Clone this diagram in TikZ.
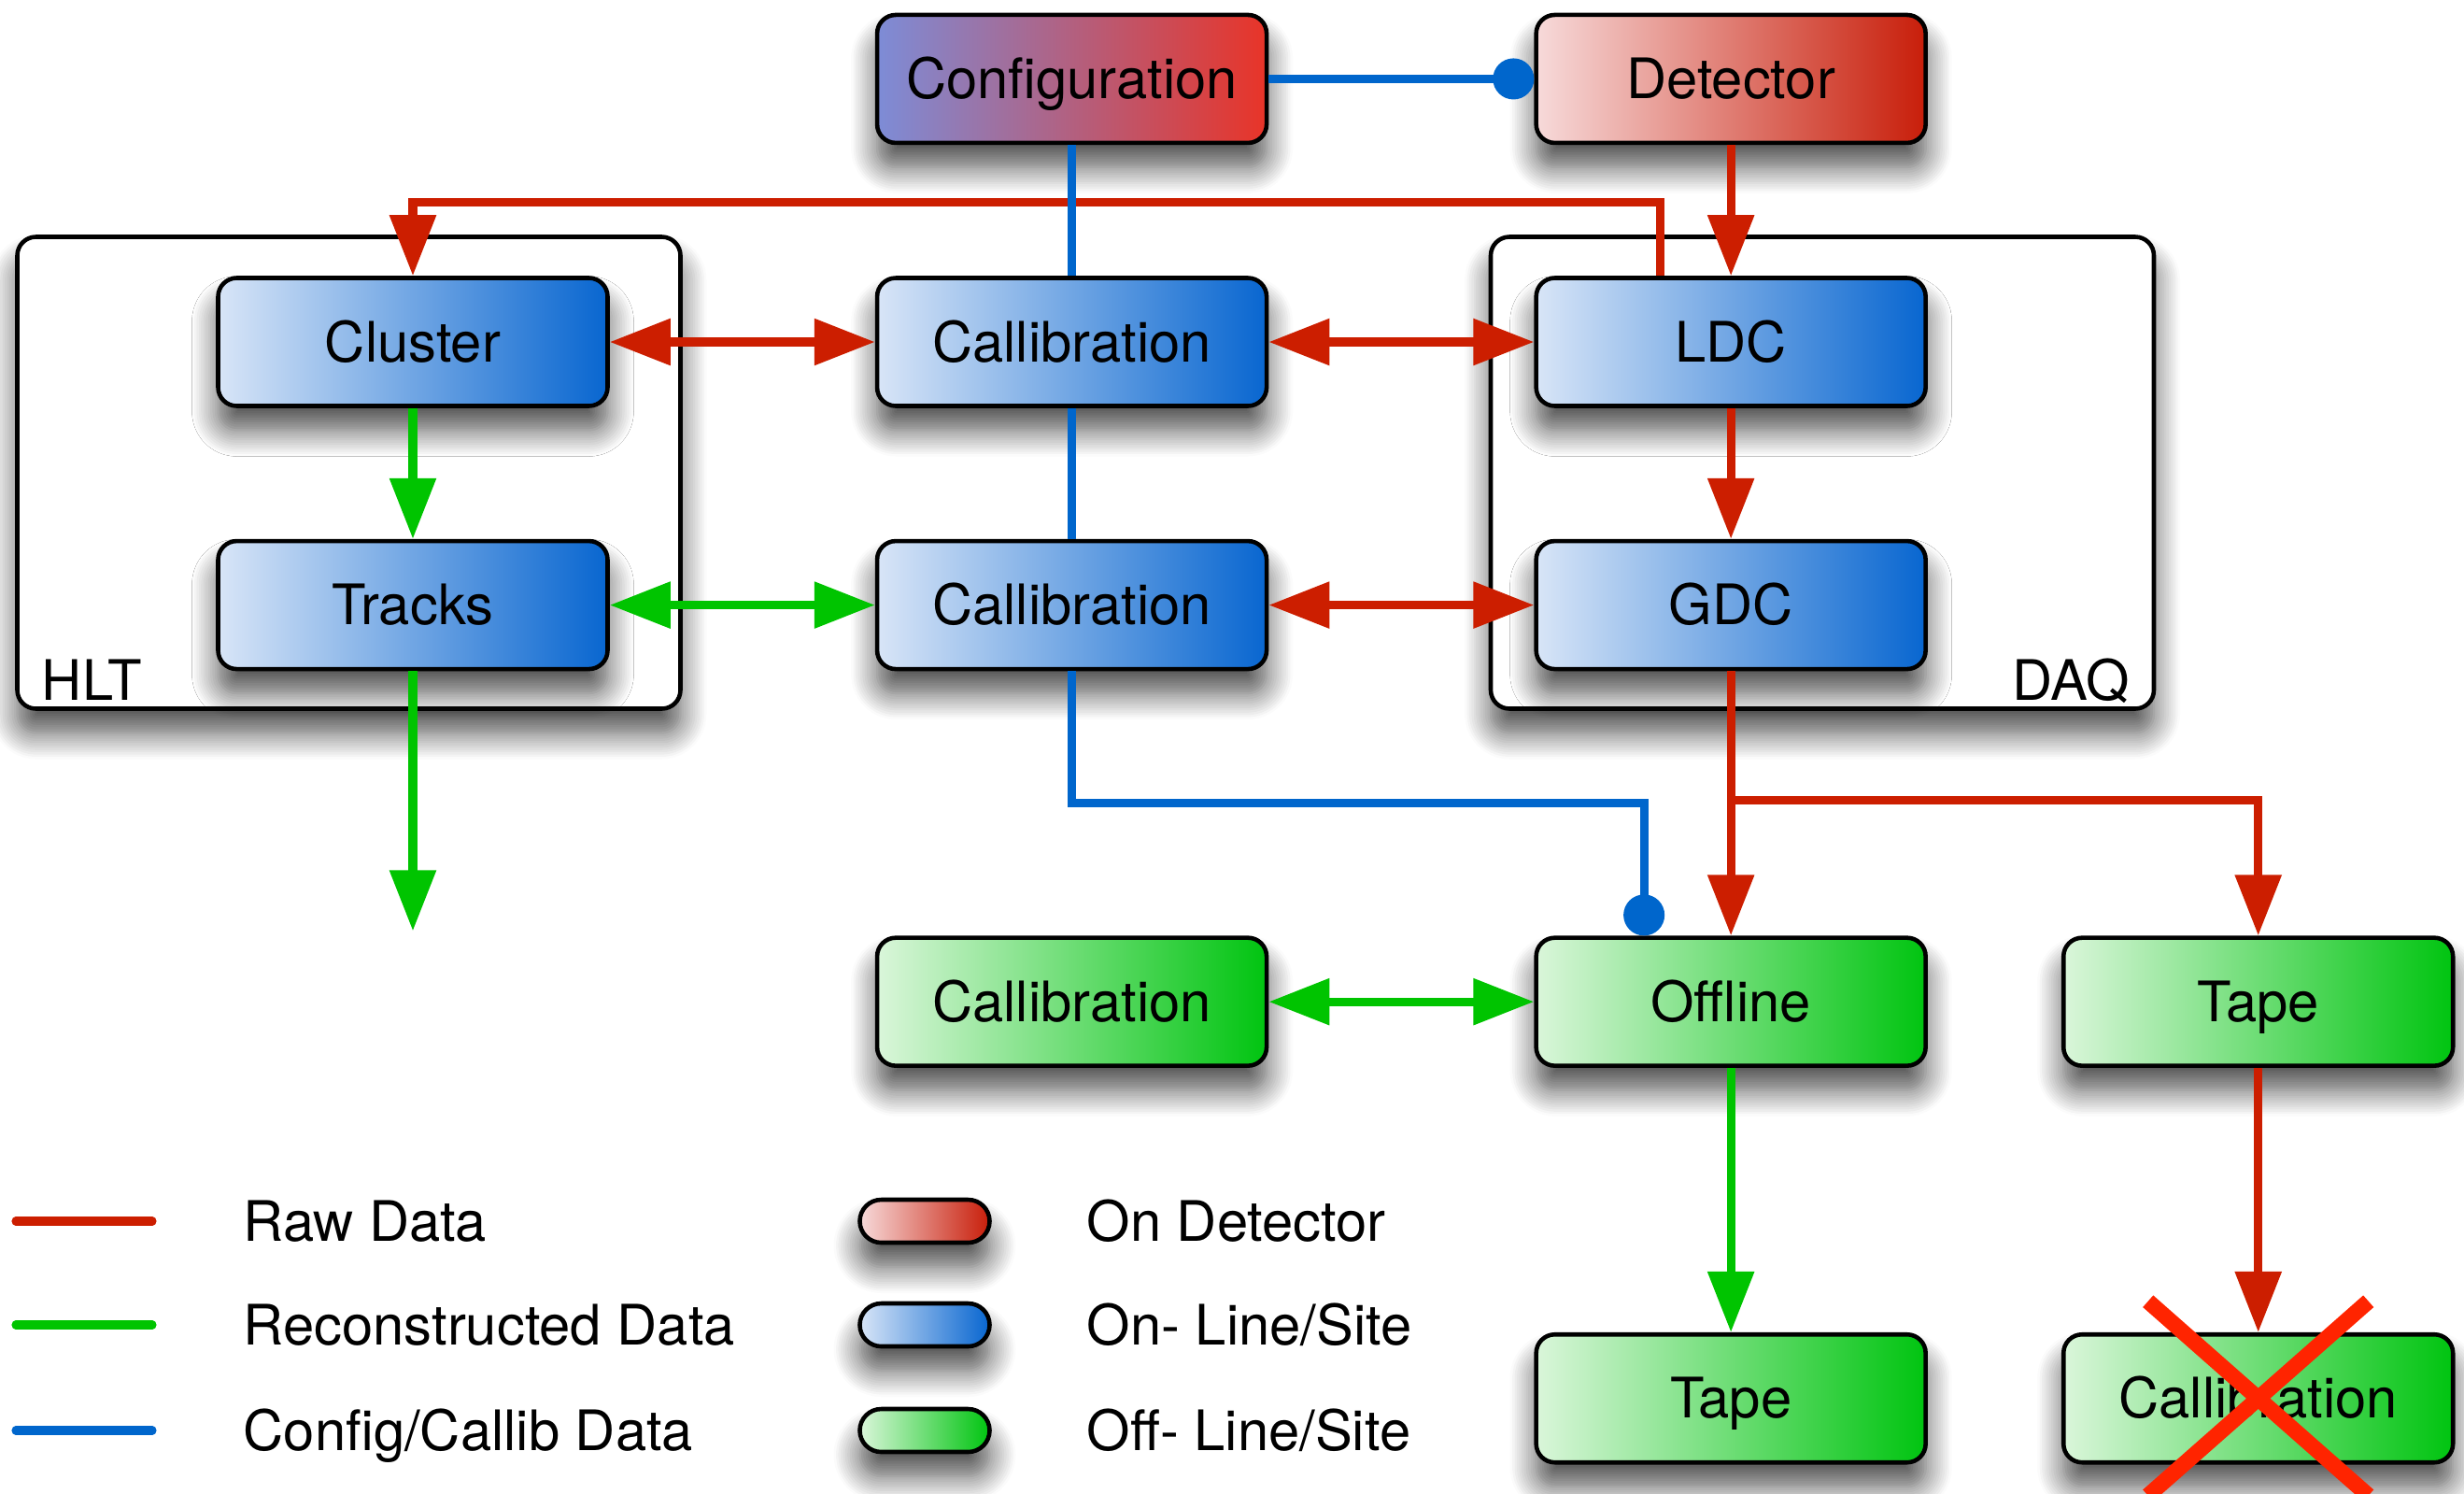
\documentclass[tikz,border=0pt]{standalone}
\usepackage{fontspec}
\setmainfont{TeX Gyre Heros}
\usetikzlibrary{arrows.meta,positioning,shadows.blur}
\tikzset{>={Triangle[length=6.5mm,width=4.8mm]}}
\definecolor{onlineL}{RGB}{216,229,247}
\definecolor{onlineR}{RGB}{8,102,208}
\definecolor{offL}{RGB}{218,246,218}
\definecolor{offR}{RGB}{0,196,16}
\definecolor{detL}{RGB}{247,218,218}
\definecolor{detR}{RGB}{200,30,10}
\definecolor{confL}{RGB}{125,140,215}
\definecolor{confR}{RGB}{232,52,40}
\definecolor{rawred}{RGB}{204,30,0}
\definecolor{recogreen}{RGB}{0,196,0}
\definecolor{cfgblue}{RGB}{0,102,204}
\definecolor{crossred}{RGB}{255,36,0}

\begin{document}
\begin{tikzpicture}[node distance={1.4cm and 2.84cm}, font=\fontsize{17}{20}\selectfont,
  shade/.style={blur shadow={shadow xshift=0pt, shadow yshift=-0.26cm, shadow blur radius=0.28cm, shadow blur steps=12, shadow opacity=70}},
  box/.style={draw, line width=1.3pt, rounded corners=0.2cm, minimum width=4.17cm, minimum height=1.37cm, text height=12pt, text depth=0pt, shade},
  online/.style={box, left color=onlineL, right color=onlineR},
  offline/.style={box, left color=offL, right color=offR},
  ondet/.style={box, left color=detL, right color=detR},
  confbox/.style={box, left color=confL, right color=confR},
  group/.style={draw, line width=1.3pt, fill=white, rounded corners=0.2cm, shade},
  pill/.style={draw, line width=1.3pt, rounded corners=0.23cm, minimum width=1.39cm, minimum height=0.46cm, shade},
  label/.style={inner sep=0pt},
  link/.style={line width=2.6pt},
  raw/.style={link, rawred},
  reco/.style={link, recogreen},
  cfg/.style={link, cfgblue},
  dot/.style={cfg, -{Circle[length=4.4mm]}}]
\useasboundingbox (0,0) rectangle (26.38,-15.98);
% containers
\node[group, minimum width=7.1cm, minimum height=5.05cm] (hlt) at (3.735,-5.06) {};
\node[group, minimum width=7.1cm, minimum height=5.05cm] (daq) at (19.51,-5.06) {};
\node[label, anchor=base west] (hltname) at ([xshift=0.28cm, yshift=0.11cm]hlt.south west) {HLT};
\node[label, anchor=base east] (daqname) at ([xshift=-0.28cm, yshift=0.11cm]daq.south east) {DAQ};
% boxes
\node[online] (cluster) at (4.42,-3.66) {Cluster};
\node[online] (calA) [right=of cluster] {Callibration};
\node[online] (ldc) [right=of calA] {LDC};
\node[confbox] (conf) [above=of calA] {Configuration};
\node[ondet] (det) [above=of ldc] {Detector};
\node[online] (tracks) [below=of cluster] {Tracks};
\node[online] (calB) [below=of calA] {Callibration};
\node[online] (gdc) [below=of ldc] {GDC};
\node[offline] (calC) [below=2.83cm of calB] {Callibration};
\node[offline] (off) [below=2.83cm of gdc] {Offline};
\node[offline] (tapeR) [right=1.43cm of off] {Tape};
\node[offline] (tapeB) [below=2.83cm of off] {Tape};
\node[offline] (calD) [below=2.83cm of tapeR] {Callibration};
\coordinate (hltout) at ([yshift=-2.78cm]tracks.south);
\coordinate (split) at ([yshift=-1.38cm]gdc.south);
% connectors
\draw[raw, ->] ([xshift=-0.76cm]ldc.north) -- ++(0,0.79) -| (cluster.north);
\draw[raw, ->] (det) -- (ldc);
\draw[raw, ->] (ldc) -- (gdc);
\draw[raw, <->] (cluster) -- (calA);
\draw[raw, <->] (calA) -- (ldc);
\draw[raw, <->] (calB) -- (gdc);
\draw[raw, ->] (gdc) -- (off);
\draw[raw, ->] (split) -| (tapeR.north);
\draw[raw, ->] (tapeR) -- (calD);
\draw[reco, ->] (cluster) -- (tracks);
\draw[reco, <->] (tracks) -- (calB);
\draw[reco, ->] (tracks) -- (hltout);
\draw[reco, <->] (calC) -- (off);
\draw[reco, ->] (off) -- (tapeB);
\draw[cfg] (conf) -- (calA);
\draw[cfg] (calA) -- (calB);
\draw[dot] (conf) -- (det);
\draw[dot] (calB.south) -- ++(0,-1.41) -| ([xshift=-0.93cm]off.north);
% crossed out
\draw[line width=4.8pt, crossred] ([shift={(-1.18,1.04)}]calD.center) -- ([shift={(1.18,-1.04)}]calD.center);
\draw[line width=4.8pt, crossred] ([shift={(1.18,1.04)}]calD.center) -- ([shift={(-1.18,-1.04)}]calD.center);
% legend
\draw[raw, line cap=round] (0.17,-13.07) -- ++(1.46,0);
\draw[reco, line cap=round] (0.17,-14.18) -- ++(1.46,0);
\draw[cfg, line cap=round] (0.17,-15.31) -- ++(1.46,0);
\node[label, anchor=base west] (rawtext) at (2.6,-13.28) {Raw Data};
\node[label, anchor=base west] (recotext) at (2.6,-14.39) {Reconstructed Data};
\node[label, anchor=base west] (cfgtext) at (2.6,-15.52) {Config/Callib Data};
\node[pill, left color=detL, right color=detR] (pilldet) at (9.9,-13.07) {};
\node[pill, left color=onlineL, right color=onlineR] (pillon) at (9.9,-14.18) {};
\node[pill, left color=offL, right color=offR] (pilloff) at (9.9,-15.31) {};
\node[label, anchor=base west] (dettext) at (11.63,-13.28) {On Detector};
\node[label, anchor=base west] (ontext) at (11.63,-14.39) {On- Line/Site};
\node[label, anchor=base west] (offtext) at (11.63,-15.52) {Off- Line/Site};
\end{tikzpicture}
\end{document}
